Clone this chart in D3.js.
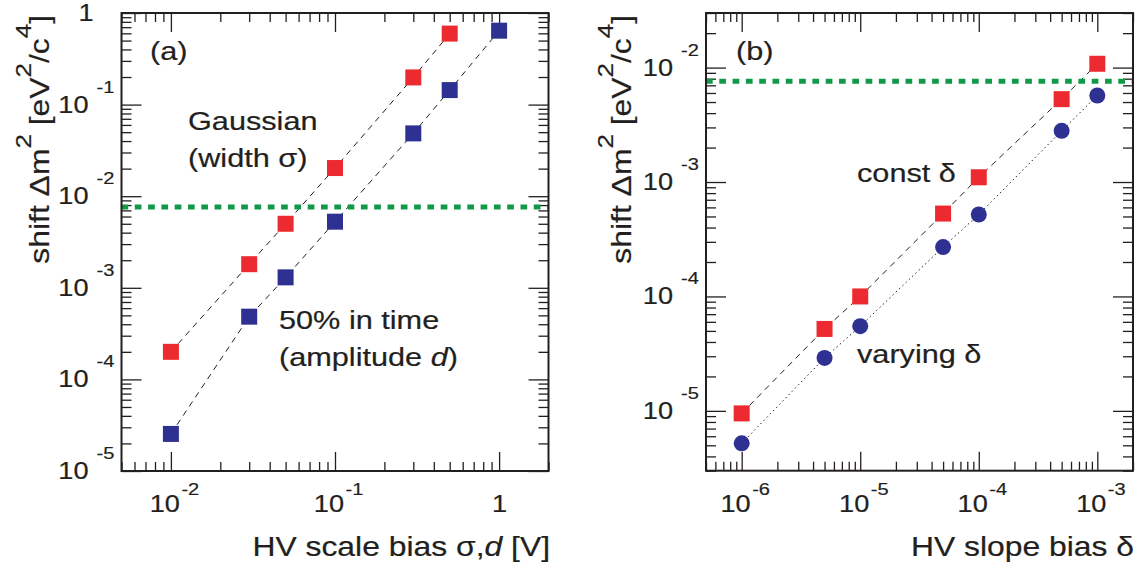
<!DOCTYPE html>
<html><head><meta charset="utf-8">
<script src="https://cdn.jsdelivr.net/npm/d3@7"></script>
<style>body{margin:0;background:#fff}svg{display:block}</style>
</head><body>
<svg id="c" width="1138" height="572"></svg>
<script>
// ---- data ----
const gaussX = [0.01, 0.03, 0.05, 0.1, 0.3, 0.5];
const gaussY = [2.0e-4, 1.81e-3, 5.0e-3, 0.0203, 0.198, 0.596];
const timeX  = [0.01, 0.03, 0.05, 0.1, 0.3, 0.5, 1];
const timeY  = [2.54e-5, 4.84e-4, 1.30e-3, 5.27e-3, 0.0485, 0.144, 0.641];
const slopeX = [1e-6, 5e-6, 1e-5, 5e-5, 1e-4, 5e-4, 1e-3];
const constY = [9.5e-6, 5.2e-5, 1.0e-4, 5.3e-4, 1.1e-3, 5.3e-3, 0.0108];
const varyY  = [5.2e-6, 2.9e-5, 5.5e-5, 2.7e-4, 5.2e-4, 2.8e-3, 5.7e-3];
const limitY = 0.0076;
const aXTicks = [0.01, 0.1, 1];
const aYTicks = [1e-5, 1e-4, 1e-3, 1e-2, 1e-1, 1];
const bXTicks = [1e-6, 1e-5, 1e-4, 1e-3];
const bYTicks = [1e-5, 1e-4, 1e-3, 1e-2];

const INK = "#231f20", RED = "#ed2a2f", BLUE = "#2e3192", GREEN = "#109a48";
const SX = 1.18;
const FONT = "'Liberation Sans', Arial, Helvetica, sans-serif";
const svg = d3.select("#c");

// text helper: parts = [{t, sup, it}]
function txt(parent, x, y, size, parts, opt = {}) {
  const g = parent.append("g")
    .attr("transform", `translate(${x},${y}) rotate(${opt.rot || 0}) scale(${SX},1)`);
  const t = g.append("text").attr("font-family", FONT).attr("font-size", size)
    .attr("fill", INK).attr("stroke", INK).attr("stroke-width", 0.2)
    .attr("text-anchor", opt.anchor || "start");
  let raised = false;
  const supSize = opt.supSize || size * 0.85, supRise = opt.supRise || size * 0.74;
  parts.forEach(p => {
    const s = t.append("tspan").text(p.t);
    if (p.sup && !raised) { s.attr("dy", -supRise).attr("font-size", supSize); raised = true; }
    else if (p.sup) { s.attr("font-size", supSize); }
    else if (!p.sup && raised) { s.attr("dy", supRise); raised = false; }
    if (p.it) s.attr("font-style", "italic");
  });
  return g;
}

function expParts(v) {
  const e = Math.round(Math.log10(v));
  return e === 0 ? null : String(e);
}

function panel(cfg) {
  const { x0, x1, y0, y1, xDom, yDom, xMaj, yMaj } = cfg;
  const x = d3.scaleLog().domain(xDom).range([x0, x1]);
  const y = d3.scaleLog().domain(yDom).range([y1, y0]);
  const isMaj = (arr, v) => arr.some(m => Math.abs(m - v) / m < 1e-6);
  const xMin = x.ticks().filter(v => !isMaj(xMaj, v));
  const yMin = y.ticks().filter(v => !isMaj(yMaj, v));
  const g = svg.append("g");
  const mk = (axis, tr) => g.append("g").attr("transform", tr).call(axis)
    .call(s => s.select(".domain").remove())
    .call(s => s.selectAll("text").remove())
    .call(s => s.selectAll("line").attr("stroke", INK).attr("stroke-width", 1.3));
  mk(d3.axisBottom(x).tickValues(xMaj).tickSize(-19).tickFormat(""), `translate(0,${y1})`);
  mk(d3.axisBottom(x).tickValues(xMin).tickSize(-9).tickFormat(""), `translate(0,${y1})`);
  mk(d3.axisTop(x).tickValues(xMaj).tickSize(-19).tickFormat(""), `translate(0,${y0})`);
  mk(d3.axisTop(x).tickValues(xMin).tickSize(-9).tickFormat(""), `translate(0,${y0})`);
  mk(d3.axisLeft(y).tickValues(yMaj).tickSize(-20).tickFormat(""), `translate(${x0},0)`);
  mk(d3.axisLeft(y).tickValues(yMin).tickSize(-10).tickFormat(""), `translate(${x0},0)`);
  mk(d3.axisRight(y).tickValues(yMaj).tickSize(-20).tickFormat(""), `translate(${x1},0)`);
  mk(d3.axisRight(y).tickValues(yMin).tickSize(-10).tickFormat(""), `translate(${x1},0)`);

  // x tick labels
  xMaj.forEach(v => {
    const e = expParts(v), px = x(v);
    if (e === null) { txt(g, px + 0.5, y1 + 41, 23, [{ t: "1" }], { anchor: "middle" }); }
    else {
      txt(g, px + 9, y1 + 41, 23, [{ t: "10" }], { anchor: "end" });
      txt(g, px + 10.5, y1 + 24, 17, [{ t: e }]);
    }
  });
  // y tick labels
  yMaj.forEach(v => {
    const e = expParts(v), py = y(v);
    if (e === null) { txt(g, x0 - 28, py + 8, 23, [{ t: "1" }], { anchor: "end" }); }
    else {
      txt(g, x0 - 33, py + 8, 23, [{ t: "10" }], { anchor: "end" });
      txt(g, x0 - 25, py - 12, 17, [{ t: e }]);
    }
  });
  return { g, x, y };
}

function series(p, xs, ys, dash) {
  const pts = xs.map((v, i) => [v, ys[i]]);
  const line = d3.line().x(d => p.x(d[0])).y(d => p.y(d[1]));
  p.g.append("path").attr("d", line(pts)).attr("fill", "none")
    .attr("stroke", INK).attr("stroke-width", 1).attr("stroke-dasharray", dash);
  return pts;
}
function markers(p, pts, shape, color) {
  if (shape === "sq") {
    p.g.selectAll(null).data(pts).join("rect")
      .attr("x", d => p.x(d[0]) - 8).attr("y", d => p.y(d[1]) - 8)
      .attr("width", 16).attr("height", 16).attr("fill", color);
  } else {
    p.g.selectAll(null).data(pts).join("circle")
      .attr("cx", d => p.x(d[0])).attr("cy", d => p.y(d[1])).attr("r", 8).attr("fill", color);
  }
}
function limit(p, x0, x1) {
  p.g.append("line").attr("x1", x0).attr("x2", x1)
    .attr("y1", p.y(limitY)).attr("y2", p.y(limitY))
    .attr("stroke", GREEN).attr("stroke-width", 5).attr("stroke-dasharray", "6.7,6.6");
}
function frame(p, x0, x1, y0, y1) {
  p.g.append("rect").attr("x", x0).attr("y", y0).attr("width", x1 - x0).attr("height", y1 - y0)
    .attr("fill", "none").attr("stroke", INK).attr("stroke-width", 2);
}
const yTitle = [{ t: "shift \u0394m" }, { t: "2", sup: 1 }, { t: " [eV" }, { t: "2", sup: 1 }, { t: "/c" }, { t: "4", sup: 1 }, { t: "]" }];

// ---- panel (a) ----
const A = { x0: 121.5, x1: 548.5, y0: 13, y1: 471, xDom: [0.005, 2], yDom: [1e-5, 1], xMaj: aXTicks, yMaj: aYTicks };
const pa = panel(A);
const ga = series(pa, gaussX, gaussY, "6,5");
const ta = series(pa, timeX, timeY, "6,5");
markers(pa, ga, "sq", RED);
markers(pa, ta, "sq", BLUE);
limit(pa, A.x0, A.x1);
frame(pa, A.x0, A.x1, A.y0, A.y1);
txt(pa.g, 150, 60, 26, [{ t: "(a)" }]);
txt(pa.g, 188, 130, 26, [{ t: "Gaussian" }]);
txt(pa.g, 188, 167, 26, [{ t: "(width \u03c3)" }]);
txt(pa.g, 279, 329, 26, [{ t: "50% in time" }]);
txt(pa.g, 279, 366, 26, [{ t: "(amplitude " }, { t: "d", it: 1 }, { t: ")" }]);
txt(pa.g, 550, 556, 27, [{ t: "HV scale bias \u03c3," }, { t: "d", it: 1 }, { t: " [V]" }], { anchor: "end" });
txt(pa.g, 48.5, 15, 27, yTitle, { rot: -90, anchor: "end", supSize: 22, supRise: 18 });

// ---- panel (b) ----
const B = { x0: 706, x1: 1133, y0: 13, y1: 470.7, xDom: [5e-7, 2e-3], yDom: [3e-6, 3e-2], xMaj: bXTicks, yMaj: bYTicks };
const pb = panel(B);
const cb = series(pb, slopeX, constY, "6,5");
const vb = series(pb, slopeX, varyY, "1.5,3");
markers(pb, cb, "sq", RED);
markers(pb, vb, "ci", BLUE);
limit(pb, B.x0, B.x1);
frame(pb, B.x0, B.x1, B.y0, B.y1);
txt(pb.g, 736, 60, 26, [{ t: "(b)" }]);
txt(pb.g, 857, 182, 26, [{ t: "const \u03b4" }]);
txt(pb.g, 857, 363, 26, [{ t: "varying \u03b4" }]);
txt(pb.g, 1134, 556, 27, [{ t: "HV slope bias \u03b4" }], { anchor: "end" });
txt(pb.g, 631, 15, 27, yTitle, { rot: -90, anchor: "end", supSize: 22, supRise: 18 });
</script>
</body></html>
